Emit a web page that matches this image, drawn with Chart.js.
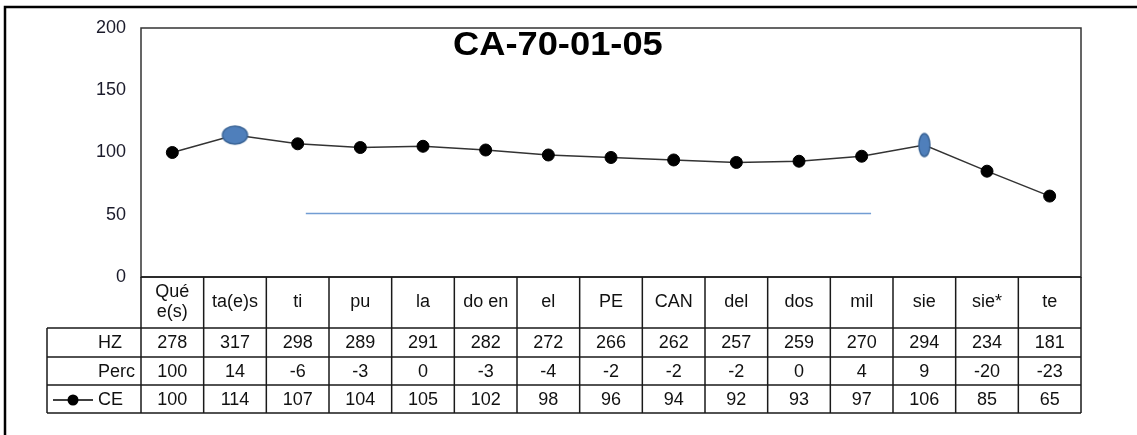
<!DOCTYPE html>
<html>
<head>
<meta charset="utf-8">
<script src="https://cdn.jsdelivr.net/npm/chart.js@4.4.1/dist/chart.umd.min.js"></script>
<style>
  html, body { margin: 0; padding: 0; background: #fff; }
  #wrap { width: 1137px; height: 435px; position: relative; }
</style>
</head>
<body>
<div id="wrap"><canvas id="ceChart" width="1137" height="435"></canvas></div>
<script>
// --- DATA ---
const categories = [['Qué', 'e(s)'], 'ta(e)s', 'ti', 'pu', 'la', 'do en', 'el', 'PE', 'CAN', 'del', 'dos', 'mil', 'sie', 'sie*', 'te'];
const hzValues   = [278, 317, 298, 289, 291, 282, 272, 266, 262, 257, 259, 270, 294, 234, 181];
const percValues = [100, 14, -6, -3, 0, -3, -4, -2, -2, -2, 0, 4, 9, -20, -23];
const ceValues   = [100, 114, 107, 104, 105, 102, 98, 96, 94, 92, 93, 97, 106, 85, 65];
const yTicks     = [0, 50, 100, 150, 200];
// flat reference line under the contour (x in category units, y in CE units)
const refLine    = [{ x: 2.13, y: 51 }, { x: 11.15, y: 51 }];
const highlighted = { 1: 'wide', 12: 'tall' };

const FONT = 'Arial, "Liberation Sans", sans-serif';

// --- ELLIPSE MARKERS ---
function ellipseMarker(w, h) {
  const c = document.createElement('canvas');
  c.width = w + 4;
  c.height = h + 4;
  const g = c.getContext('2d');
  g.beginPath();
  g.ellipse(c.width / 2, c.height / 2, w / 2, h / 2, 0, 0, Math.PI * 2);
  g.fillStyle = '#4f7fbb';
  g.fill();
  g.lineWidth = 1.5;
  g.strokeStyle = '#3a6496';
  g.stroke();
  return c;
}
const wideEllipse = ellipseMarker(25, 18);
const tallEllipse = ellipseMarker(11, 23);

const pointStyles = ceValues.map((v, i) =>
  highlighted[i] === 'wide' ? wideEllipse : highlighted[i] === 'tall' ? tallEllipse : 'circle');

// --- FRAME, TITLE AND DATA TABLE ---
const tablePlugin = {
  id: 'dataTable',
  afterDraw(chart) {
    const ctx = chart.ctx;
    const area = chart.chartArea;
    const xs = chart.scales.x;
    const colW = (area.right - area.left) / categories.length;
    const rowTop = area.bottom;
    const catBottom = rowTop + 51;
    const rowH = [29, 28, 28];
    const tableLeft = 47;

    ctx.save();
    // outer frame (top and left edges visible)
    ctx.strokeStyle = '#000';
    ctx.lineWidth = 2.5;
    ctx.beginPath();
    ctx.moveTo(5, 435);
    ctx.lineTo(5, 7);
    ctx.lineTo(1137, 7);
    ctx.stroke();

    // plot border
    ctx.strokeStyle = '#333';
    ctx.lineWidth = 1.5;
    ctx.strokeRect(area.left, area.top, area.right - area.left, area.bottom - area.top);

    // title (slightly wide, as in the source)
    ctx.save();
    ctx.fillStyle = '#000';
    ctx.font = 'bold 33px ' + FONT;
    ctx.textAlign = 'center';
    ctx.textBaseline = 'alphabetic';
    ctx.translate(area.left + (area.right - area.left) * 0.4435, 55);
    ctx.scale(1.1, 1);
    ctx.fillText('CA-70-01-05', 0, 0);
    ctx.restore();

    // table grid
    ctx.strokeStyle = '#1a1a1a';
    ctx.lineWidth = 1.5;
    const rowsBottom = catBottom + rowH[0] + rowH[1] + rowH[2];
    ctx.beginPath();
    // category row
    ctx.moveTo(area.left, catBottom);
    ctx.lineTo(area.left, rowTop);
    for (let i = 1; i <= categories.length; i++) {
      const x = area.left + colW * i;
      ctx.moveTo(x, rowTop);
      ctx.lineTo(x, rowsBottom);
    }
    ctx.moveTo(area.left, rowTop);
    ctx.lineTo(area.right, rowTop);
    // value rows
    let y = catBottom;
    ctx.moveTo(tableLeft, y);
    ctx.lineTo(area.right, y);
    rowH.forEach(h => {
      y += h;
      ctx.moveTo(tableLeft, y);
      ctx.lineTo(area.right, y);
    });
    ctx.moveTo(tableLeft, catBottom);
    ctx.lineTo(tableLeft, rowsBottom);
    ctx.moveTo(area.left, catBottom);
    ctx.lineTo(area.left, rowsBottom);
    ctx.stroke();

    // category labels
    ctx.fillStyle = '#111';
    ctx.font = '18px ' + FONT;
    ctx.textAlign = 'center';
    ctx.textBaseline = 'middle';
    categories.forEach((c, i) => {
      const cx = xs.getPixelForValue(i);
      const midY = (rowTop + catBottom) / 2;
      if (Array.isArray(c)) {
        ctx.fillText(c[0], cx, midY - 10);
        ctx.fillText(c[1], cx, midY + 10);
      } else {
        ctx.fillText(c, cx, midY);
      }
    });

    // value rows
    const rows = [['HZ', hzValues], ['Perc', percValues], ['CE', ceValues]];
    let top = catBottom;
    rows.forEach(([name, vals], r) => {
      const midY = top + rowH[r] / 2 + 1;
      ctx.textAlign = 'left';
      ctx.fillText(name, 98, midY);
      ctx.textAlign = 'center';
      vals.forEach((v, i) => ctx.fillText(String(v), xs.getPixelForValue(i), midY));
      if (name === 'CE') {
        ctx.strokeStyle = '#000';
        ctx.lineWidth = 1.5;
        ctx.beginPath();
        ctx.moveTo(53, midY);
        ctx.lineTo(93, midY);
        ctx.stroke();
        ctx.beginPath();
        ctx.arc(73, midY, 5.5, 0, Math.PI * 2);
        ctx.fillStyle = '#000';
        ctx.fill();
        ctx.fillStyle = '#111';
      }
      top += rowH[r];
    });
    ctx.restore();
  }
};

// --- CHART ---
const ctx = document.getElementById('ceChart').getContext('2d');
new Chart(ctx, {
  type: 'line',
  data: {
    labels: categories,
    datasets: [{
      label: 'CE',
      data: ceValues,
      borderColor: '#333',
      borderWidth: 1.5,
      pointStyle: pointStyles,
      pointRadius: 6,
      pointBackgroundColor: '#000',
      pointBorderColor: '#000',
      pointBorderWidth: 1,
      tension: 0
    }, {
      label: 'ref',
      data: refLine,
      xAxisID: 'x2',
      borderColor: '#729dd3',
      borderWidth: 1.5,
      pointRadius: 0,
      tension: 0
    }]
  },
  options: {
    responsive: false,
    animation: false,
    layout: { padding: { left: 0, top: 28, right: 56, bottom: 158 } },
    plugins: {
      legend: { display: false },
      tooltip: { enabled: false }
    },
    scales: {
      x: {
        type: 'category',
        offset: true,
        display: false
      },
      x2: {
        type: 'linear',
        min: -0.5,
        max: categories.length - 0.5,
        display: false
      },
      y: {
        min: 0,
        max: 200,
        afterBuildTicks: (s) => { s.ticks = yTicks.map(v => ({ value: v })); },
        afterFit: (s) => { s.width = 141; },
        grid: { display: false },
        border: { display: false },
        ticks: {
          padding: 7,
          color: '#1a1a2a',
          font: { family: FONT, size: 18 }
        }
      }
    }
  },
  plugins: [tablePlugin]
});
</script>
</body>
</html>
